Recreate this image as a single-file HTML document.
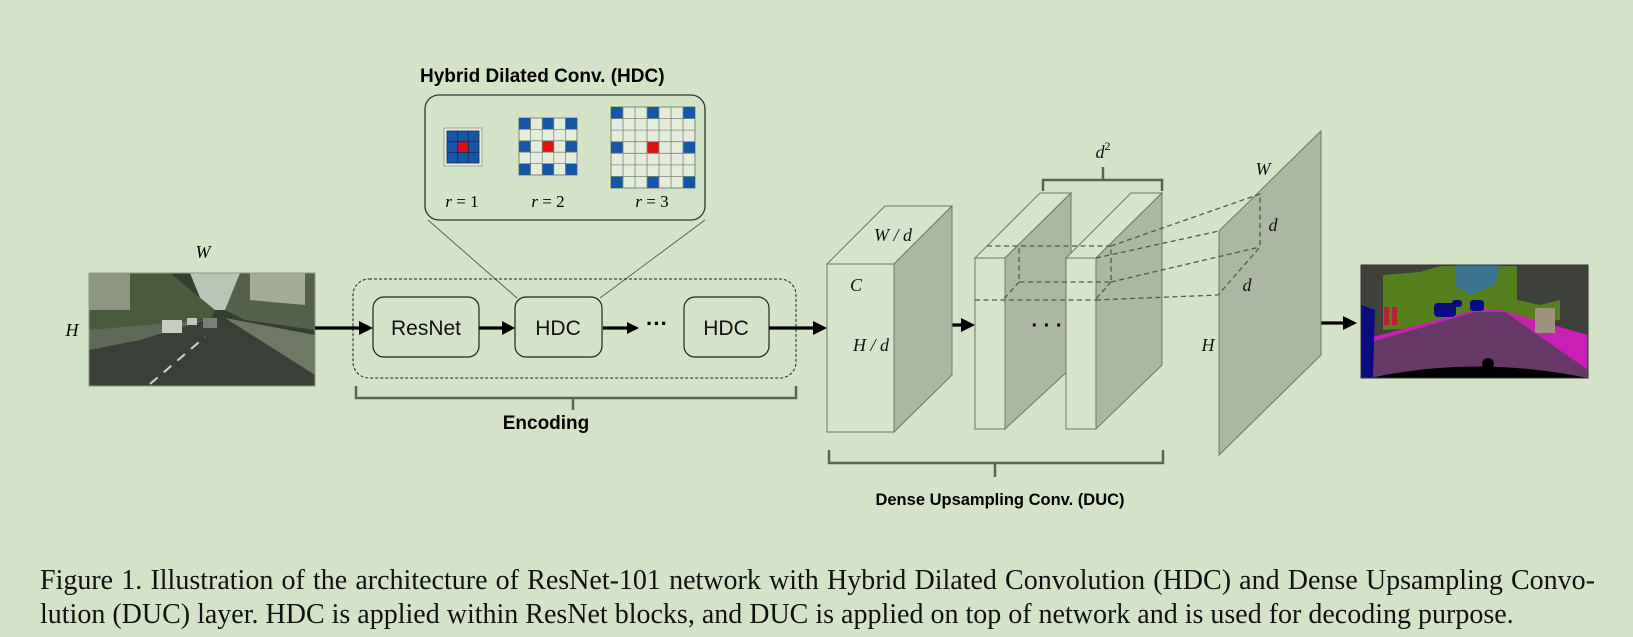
<!DOCTYPE html>
<html><head><meta charset="utf-8"><style>
html,body{margin:0;padding:0;background:#d4e3c8;}
body{width:1633px;height:637px;overflow:hidden;position:relative;}
svg{position:absolute;left:0;top:0;}
.cap{position:absolute;left:40px;width:1555px;font-family:"Liberation Serif",serif;font-size:28px;line-height:34px;color:#111;white-space:nowrap;}
.l1{top:564px;text-align:justify;text-align-last:justify;}
.l2{top:598px;}
</style></head><body>
<svg width="1633" height="637" viewBox="0 0 1633 637" xmlns="http://www.w3.org/2000/svg">
<defs>
<clipPath id="pc"><rect x="89" y="273" width="226" height="113"/></clipPath>
<clipPath id="sc"><rect x="1361" y="265" width="227" height="113"/></clipPath>
</defs>
<g clip-path="url(#pc)">
<rect x="89" y="273" width="226" height="113" fill="#34402f"/>
<polygon points="190,273 250,273 235,310 205,310" fill="#b9c6b5"/>
<polygon points="89,273 170,273 215,310 205,330 89,330" fill="#4a5a3c"/>
<polygon points="89,273 130,273 130,310 89,310" fill="#8c957f"/>
<polygon points="240,273 315,273 315,330 245,320 225,310" fill="#55604a"/>
<polygon points="250,273 305,273 305,305 250,300" fill="#a3ab95"/>
<polygon points="89,386 315,386 315,372 240,322 205,318 150,330 89,342" fill="#3a4037"/>
<polygon points="89,330 205,320 140,340 89,350" fill="#5f6957"/>
<polygon points="225,318 315,335 315,375" fill="#6e7865"/>
<rect x="162" y="320" width="20" height="13" fill="#c9ccc0"/>
<rect x="203" y="318" width="14" height="10" fill="#7c7f76"/>
<rect x="187" y="318" width="10" height="7" fill="#c3c6bb"/>
<line x1="150" y1="384" x2="205" y2="337" stroke="#cfd3c6" stroke-width="2" stroke-dasharray="10,8"/>
</g>
<rect x="89" y="273" width="226" height="113" fill="none" stroke="#8c9a82" stroke-width="1"/>
<text x="203" y="258" font-family="Liberation Serif,serif" font-style="italic" font-size="18" text-anchor="middle">W</text>
<text x="72" y="336" font-family="Liberation Serif,serif" font-style="italic" font-size="18" text-anchor="middle">H</text>

<text x="420" y="82" font-family="Liberation Sans,sans-serif" font-weight="bold" font-size="19">Hybrid Dilated Conv. (HDC)</text>
<rect x="425" y="95" width="280" height="125" rx="14" fill="none" stroke="#333" stroke-width="1.3"/>
<line x1="428" y1="220" x2="517" y2="298" stroke="#555" stroke-width="0.9"/>
<line x1="705" y1="220" x2="600" y2="298" stroke="#555" stroke-width="0.9"/>
<rect x="444" y="128" width="38" height="38" fill="#e4ecdc" stroke="#9aa890"/>
<g stroke="#1a2a4a" stroke-width="0.8">
<rect x="447" y="131" width="32" height="32" fill="#1556a8"/>
<rect x="457.7" y="141.7" width="10.7" height="10.7" fill="#d11"/>
<line x1="457.7" y1="131" x2="457.7" y2="163"/><line x1="468.3" y1="131" x2="468.3" y2="163"/>
<line x1="447" y1="141.7" x2="479" y2="141.7"/><line x1="447" y1="152.3" x2="479" y2="152.3"/>
</g>
<rect x="519" y="118" width="58" height="57" fill="#e4ecdc" stroke="#7d8a75"/>
<g fill="#1556a8">
<rect x="519" y="118" width="11.6" height="11.4"/><rect x="542.2" y="118" width="11.6" height="11.4"/><rect x="565.4" y="118" width="11.6" height="11.4"/>
<rect x="519" y="140.8" width="11.6" height="11.4"/><rect x="565.4" y="140.8" width="11.6" height="11.4"/>
<rect x="519" y="163.6" width="11.6" height="11.4"/><rect x="542.2" y="163.6" width="11.6" height="11.4"/><rect x="565.4" y="163.6" width="11.6" height="11.4"/>
</g>
<rect x="542.2" y="140.8" width="11.6" height="11.4" fill="#d11"/>
<g stroke="#7d8a75" stroke-width="0.8">
<line x1="530.6" y1="118" x2="530.6" y2="175"/><line x1="542.2" y1="118" x2="542.2" y2="175"/><line x1="553.8" y1="118" x2="553.8" y2="175"/><line x1="565.4" y1="118" x2="565.4" y2="175"/>
<line x1="519" y1="129.4" x2="577" y2="129.4"/><line x1="519" y1="140.8" x2="577" y2="140.8"/><line x1="519" y1="152.2" x2="577" y2="152.2"/><line x1="519" y1="163.6" x2="577" y2="163.6"/>
</g>
<rect x="611" y="107" width="84" height="81" fill="#e4ecdc" stroke="#7d8a75"/>
<g fill="#1556a8">
<rect x="611" y="107" width="12" height="11.6"/><rect x="647" y="107" width="12" height="11.6"/><rect x="683" y="107" width="12" height="11.6"/>
<rect x="611" y="141.7" width="12" height="11.6"/><rect x="683" y="141.7" width="12" height="11.6"/>
<rect x="611" y="176.4" width="12" height="11.6"/><rect x="647" y="176.4" width="12" height="11.6"/><rect x="683" y="176.4" width="12" height="11.6"/>
</g>
<rect x="647" y="141.7" width="12" height="11.6" fill="#d11"/>
<g stroke="#7d8a75" stroke-width="0.8">
<line x1="623" y1="107" x2="623" y2="188"/><line x1="635" y1="107" x2="635" y2="188"/><line x1="647" y1="107" x2="647" y2="188"/><line x1="659" y1="107" x2="659" y2="188"/><line x1="671" y1="107" x2="671" y2="188"/><line x1="683" y1="107" x2="683" y2="188"/>
<line x1="611" y1="118.6" x2="695" y2="118.6"/><line x1="611" y1="130.1" x2="695" y2="130.1"/><line x1="611" y1="141.7" x2="695" y2="141.7"/><line x1="611" y1="153.3" x2="695" y2="153.3"/><line x1="611" y1="164.9" x2="695" y2="164.9"/><line x1="611" y1="176.4" x2="695" y2="176.4"/>
</g>
<g font-family="Liberation Serif,serif" font-size="17" text-anchor="middle">
<text x="462" y="207"><tspan font-style="italic">r</tspan> = 1</text>
<text x="548" y="207"><tspan font-style="italic">r</tspan> = 2</text>
<text x="652" y="207"><tspan font-style="italic">r</tspan> = 3</text>
</g>

<rect x="353" y="279" width="443" height="99" rx="16" fill="none" stroke="#222" stroke-width="1" stroke-dasharray="3,2"/>
<g fill="none" stroke="#222" stroke-width="1.2">
<rect x="373" y="297" width="106" height="60" rx="11"/>
<rect x="515" y="297" width="87" height="60" rx="11"/>
<rect x="684" y="297" width="85" height="60" rx="11"/>
</g>
<g font-family="Liberation Sans,sans-serif" font-size="21" text-anchor="middle" fill="#111">
<text x="426" y="335">ResNet</text><text x="558" y="335">HDC</text><text x="726" y="335">HDC</text>
</g>
<text x="657" y="331" font-family="Liberation Sans,sans-serif" font-size="22" font-weight="bold" text-anchor="middle">···</text>
<g stroke="#000" stroke-width="3.2">
<line x1="315" y1="328" x2="362" y2="328"/><line x1="479" y1="328" x2="505" y2="328"/><line x1="603" y1="328" x2="630" y2="328"/><line x1="769" y1="328" x2="816" y2="328"/>
<line x1="915" y1="325" x2="963" y2="325"/><line x1="1297" y1="323" x2="1345" y2="323"/>
</g>
<g fill="#000">
<polygon points="373,328 359,321 359,335"/><polygon points="515,328 502,321 502,335"/><polygon points="639,328 627,322 627,334"/><polygon points="827,328 813,321 813,335"/>
<polygon points="975,325 961,318 961,332"/><polygon points="1357,323 1343,316 1343,330"/>
</g>
<path d="M356,386 V398 H796 V386 M573,398 V410" fill="none" stroke="#58654f" stroke-width="2.5"/>
<text x="546" y="429" font-family="Liberation Sans,sans-serif" font-weight="bold" font-size="19" text-anchor="middle">Encoding</text>

<g stroke="#6c7a64" stroke-width="1">
<polygon points="827,264 885,206 952,206 894,264" fill="#d6e4cc"/>
<polygon points="894,264 952,206 952,375 894,432" fill="#abb7a0"/>
<rect x="827" y="264" width="67" height="168" fill="#d6e4cc"/>
<polygon points="975,258 1040,193 1071,193 1005,258" fill="#d6e4cc"/>
<polygon points="1005,258 1071,193 1071,368 1005,429" fill="#abb7a0"/>
<rect x="975" y="258" width="30" height="171" fill="#d6e4cc"/>
<polygon points="1066,258 1131,193 1162,193 1096,258" fill="#d6e4cc"/>
<polygon points="1096,258 1162,193 1162,365 1096,429" fill="#abb7a0"/>
<rect x="1066" y="258" width="30" height="171" fill="#d6e4cc"/>
<polygon points="1219,231 1321,131 1321,355 1219,455" fill="#abb7a0"/>
</g>
<g font-family="Liberation Serif,serif" font-style="italic" font-size="18" text-anchor="middle" fill="#111">
<text x="893" y="241">W / d</text><text x="856" y="291">C</text><text x="871" y="351">H / d</text>
<text x="1103" y="158">d<tspan font-size="12" font-style="normal" dy="-8">2</tspan></text>
<text x="1263" y="175">W</text><text x="1273" y="231">d</text><text x="1247" y="291">d</text><text x="1208" y="351">H</text>
</g>
<text x="1047" y="332" font-family="Liberation Sans,sans-serif" font-size="20" font-weight="bold" text-anchor="middle">· · ·</text>
<g fill="none" stroke="#505a4a" stroke-width="1.3" stroke-dasharray="5,3.5">
<path d="M987,246 H1111 V282 H1019 V246 M1019,282 L1003,300 M975,300 H1096 M1111,282 L1095,300"/>
<path d="M1111,246 L1260,194 V247 L1218,295 M1096,258 L1219,231 M1111,282 L1260,247 M1096,300 L1218,295"/>
</g>
<path d="M1043,191 V180 H1162 V191 M1103,180 V167" fill="none" stroke="#58654f" stroke-width="2.5"/>
<path d="M829,450 V463 H1163 V450 M995,463 V477" fill="none" stroke="#58654f" stroke-width="2.5"/>
<text x="1000" y="505" font-family="Liberation Sans,sans-serif" font-weight="bold" font-size="16.5" text-anchor="middle">Dense Upsampling Conv. (DUC)</text>

<g clip-path="url(#sc)">
<rect x="1361" y="265" width="227" height="113" fill="#3d413a"/>
<polygon points="1383,275 1420,272 1440,266 1517,266 1517,300 1540,305 1560,300 1560,320 1383,330" fill="#56801e"/>
<polygon points="1455,265 1500,265 1495,285 1470,295 1455,285" fill="#3c758f"/>
<polygon points="1361,340 1475,310 1500,310 1588,335 1588,370" fill="#c81fb4"/>
<polygon points="1361,345 1475,312 1505,312 1588,370 1588,378 1361,378" fill="#663865"/>
<polygon points="1361,305 1375,310 1373,378 1361,378" fill="#0b0b80"/>
<rect x="1434" y="303" width="22" height="14" rx="4" fill="#0b0b80"/>
<rect x="1470" y="300" width="14" height="11" rx="3" fill="#0b0b80"/>
<rect x="1452" y="300" width="10" height="7" rx="3" fill="#0b0b80"/>
<rect x="1384" y="307" width="5" height="18" fill="#b8213c"/><rect x="1392" y="307" width="5" height="18" fill="#b8213c"/>
<rect x="1535" y="308" width="20" height="25" fill="#a09080"/>
<path d="M1370,378 Q1475,355 1588,378 Z" fill="#000"/>
<circle cx="1488" cy="364" r="6" fill="#000"/>
</g>
<rect x="1361" y="265" width="227" height="113" fill="none" stroke="#333" stroke-width="1"/>
</svg>
<div class="cap l1">Figure 1. Illustration of the architecture of ResNet-101 network with Hybrid Dilated Convolution (HDC) and Dense Upsampling Convo-</div>
<div class="cap l2">lution (DUC) layer. HDC is applied within ResNet blocks, and DUC is applied on top of network and is used for decoding purpose.</div>
</body></html>
